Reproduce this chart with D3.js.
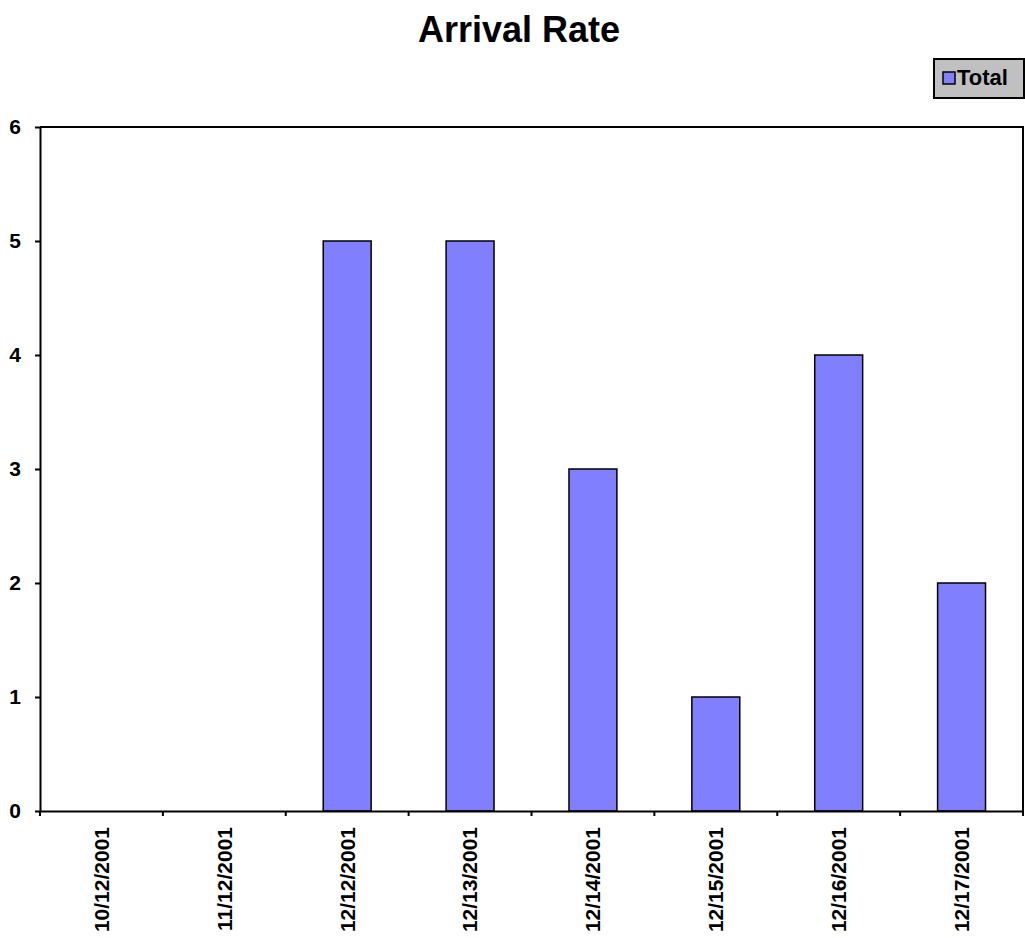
<!DOCTYPE html>
<html>
<head>
<meta charset="utf-8">
<script src="https://cdn.jsdelivr.net/npm/d3@7"></script>
<style>
  html, body { margin: 0; padding: 0; background: #fff; }
  svg { display: block; font-family: "Liberation Sans", Arial, sans-serif; font-weight: bold; }
</style>
</head>
<body>
<svg id="chart" width="1025" height="938"></svg>
<script>
// Arrival counts per day
const dates = ["10/12/2001", "11/12/2001", "12/12/2001", "12/13/2001",
               "12/14/2001", "12/15/2001", "12/16/2001", "12/17/2001"];
const totals = [0, 0, 5, 5, 3, 1, 4, 2];
const yTicks = [0, 1, 2, 3, 4, 5, 6];
const seriesName = "Total";
const chartTitle = "Arrival Rate";

const svg = d3.select("#chart");
const plot = { left: 40, right: 1023, top: 127, bottom: 811 };
const barColor = "#8080ff";

// Category slots span the whole plot width; bars sit centred in each slot
const xSlot = d3.scaleBand().domain(dates).range([plot.left, plot.right]).padding(0);
const barPad = 0.61;
const xBar = d3.scaleBand().domain(dates).range([plot.left, plot.right])
  .paddingInner(barPad).paddingOuter(barPad / 2);
const y = d3.scaleLinear().domain([0, 6]).range([plot.bottom, plot.top]);

// Title
svg.append("text")
  .attr("x", 519).attr("y", 42)
  .attr("text-anchor", "middle")
  .attr("font-size", 36)
  .text(chartTitle);

// Plot frame (top and right edges)
svg.append("path")
  .attr("d", `M${plot.left},${plot.top}H${plot.right}V${plot.bottom}`)
  .attr("fill", "none").attr("stroke", "#000").attr("stroke-width", 2);

// Bars
svg.append("g").selectAll("rect")
  .data(dates.map((d, i) => ({ date: d, value: totals[i] })).filter(d => d.value > 0))
  .join("rect")
  .attr("x", d => xBar(d.date))
  .attr("y", d => y(d.value))
  .attr("width", xBar.bandwidth())
  .attr("height", d => y(0) - y(d.value))
  .attr("fill", barColor)
  .attr("stroke", "#000")
  .attr("stroke-width", 1.5);

// Y axis
const yAxis = svg.append("g")
  .attr("transform", `translate(${plot.left},0)`)
  .call(d3.axisLeft(y).tickValues(yTicks).tickFormat(d3.format("d")).tickSize(5).tickSizeOuter(0).tickPadding(14));
yAxis.select(".domain").attr("stroke", "#000").attr("stroke-width", 2);
yAxis.selectAll(".tick line").attr("stroke", "#000").attr("stroke-width", 2);
yAxis.selectAll(".tick text")
  .attr("font-family", "'Liberation Sans', Arial, sans-serif")
  .attr("font-weight", "bold")
  .attr("font-size", 21)
  .attr("fill", "#000");

// X axis: labels at slot centres, ticks on slot boundaries
const xAxis = svg.append("g")
  .attr("transform", `translate(0,${plot.bottom})`)
  .call(d3.axisBottom(xSlot).tickSize(0).tickSizeOuter(0));
xAxis.select(".domain").attr("stroke", "#000").attr("stroke-width", 2);
xAxis.selectAll(".tick text")
  .attr("font-family", "'Liberation Sans', Arial, sans-serif")
  .attr("font-weight", "bold")
  .attr("font-size", 21)
  .attr("fill", "#000")
  .attr("text-anchor", "end")
  .attr("transform", "translate(0,16) rotate(-90)")
  .attr("x", 0).attr("y", 0).attr("dy", "0.35em");

const boundaries = dates.map(d => xSlot(d)).concat([plot.right]);
xAxis.selectAll(".bound")
  .data(boundaries)
  .join("line")
  .attr("class", "bound")
  .attr("x1", d => d).attr("x2", d => d)
  .attr("y1", 0).attr("y2", 5)
  .attr("stroke", "#000").attr("stroke-width", 2);

// Legend
const legend = svg.append("g").attr("transform", "translate(934,59)");
legend.append("rect")
  .attr("x", 0).attr("y", 0).attr("width", 90).attr("height", 39)
  .attr("fill", "#c0c0c0").attr("stroke", "#000").attr("stroke-width", 2);
legend.append("rect")
  .attr("x", 9).attr("y", 13).attr("width", 12).attr("height", 12)
  .attr("fill", barColor).attr("stroke", "#000").attr("stroke-width", 1.5);
legend.append("text")
  .attr("x", 23).attr("y", 26)
  .attr("font-size", 22)
  .text(seriesName);
</script>
</body>
</html>
